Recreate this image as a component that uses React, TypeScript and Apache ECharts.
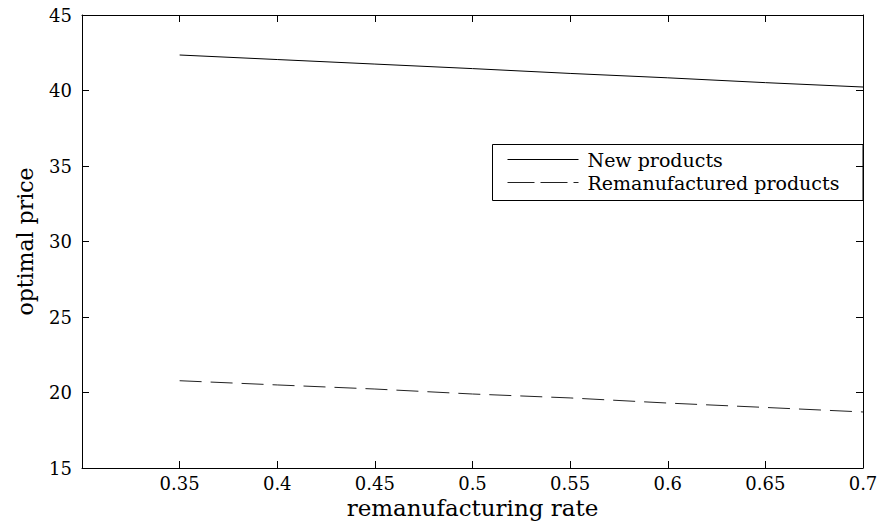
import React, { useEffect, useRef } from "react";
import * as echarts from "echarts";

const rates = [0.35, 0.4, 0.45, 0.5, 0.55, 0.6, 0.65, 0.7];
const newProducts = [42.35, 42.05, 41.75, 41.45, 41.13, 40.84, 40.52, 40.23];
const remanProducts = [20.78, 20.5, 20.23, 19.9, 19.64, 19.3, 19.01, 18.71];
const seriesNames = ["New products", "Remanufactured products"];
const xTitle = "remanufacturing rate";
const yTitle = "optimal price";

const FONT = "DejaVu Serif";

export default function App() {
  const ref = useRef<HTMLDivElement>(null);
  useEffect(() => {
    if (!ref.current) return;
    const chart = echarts.init(ref.current, undefined, { renderer: "svg" });
    const axisCommon = {
      axisLine: { show: true, lineStyle: { color: "#000", width: 1 } },
      axisTick: { show: true, inside: true, length: 7, lineStyle: { color: "#000" } },
      splitLine: { show: false },
    };
    const xBase = { type: "value", min: 0.3, max: 0.7, interval: 0.05 };
    const yBase = { type: "value", min: 15, max: 45, interval: 5 };
    chart.setOption({
      animation: false,
      backgroundColor: "#fff",
      grid: {
        left: 82,
        top: 15,
        right: 15,
        bottom: 53,
        containLabel: false,
        outerBoundsMode: "none",
      },
      xAxis: [
        {
          ...xBase,
          ...axisCommon,
          position: "bottom",
          name: xTitle,
          nameLocation: "middle",
          nameGap: 25,
          nameTextStyle: { fontFamily: FONT, fontSize: 23, color: "#000" },
          axisLabel: {
            fontFamily: FONT,
            fontSize: 18,
            color: "#000",
            margin: 6,
            showMinLabel: false,
            formatter: (v: number) => (Math.abs(v - 0.3) < 1e-9 ? "" : String(+v.toFixed(2))),
          },
        },
        { ...xBase, ...axisCommon, position: "top", axisLabel: { show: false } },
      ],
      yAxis: [
        {
          ...yBase,
          ...axisCommon,
          position: "left",
          name: yTitle,
          nameLocation: "middle",
          nameGap: 46,
          nameTextStyle: { fontFamily: FONT, fontSize: 22, color: "#000" },
          axisLabel: { fontFamily: FONT, fontSize: 18, color: "#000", margin: 10 },
        },
        { ...yBase, ...axisCommon, position: "right", axisLabel: { show: false } },
      ],
      legend: {
        orient: "vertical",
        left: 507,
        top: 150,
        itemWidth: 71,
        itemHeight: 14,
        itemGap: 4,
        padding: 0,
        textStyle: {
          fontFamily: FONT,
          fontSize: 19,
          lineHeight: 18,
          color: "#000",
          padding: [0, 0, 0, 4],
        },
        data: [
          { name: seriesNames[0], itemStyle: { opacity: 0 }, lineStyle: { color: "#000", width: 1, type: "solid" } },
          { name: seriesNames[1], itemStyle: { opacity: 0 }, lineStyle: { color: "#222", width: 1, type: [27, 6] } },
        ],
      },
      graphic: [
        {
          type: "rect",
          shape: { x: 492.5, y: 144.5, width: 370.5, height: 56 },
          style: { fill: "none", stroke: "#000", lineWidth: 1 },
          z: 10,
        },
      ],
      series: [
        {
          name: seriesNames[0],
          type: "line",
          symbol: "none",
          data: rates.map((r, i) => [r, newProducts[i]]),
          lineStyle: { color: "#000", width: 1, type: "solid" },
          itemStyle: { color: "#000" },
        },
        {
          name: seriesNames[1],
          type: "line",
          symbol: "none",
          data: rates.map((r, i) => [r, remanProducts[i]]),
          lineStyle: { color: "#222", width: 1, type: [22, 9] },
          itemStyle: { color: "#222" },
        },
      ],
    });
    return () => chart.dispose();
  }, []);
  return (
    <div
      ref={ref}
      style={{ position: "absolute", left: 0, top: 0, width: 878, height: 521 }}
    />
  );
}
